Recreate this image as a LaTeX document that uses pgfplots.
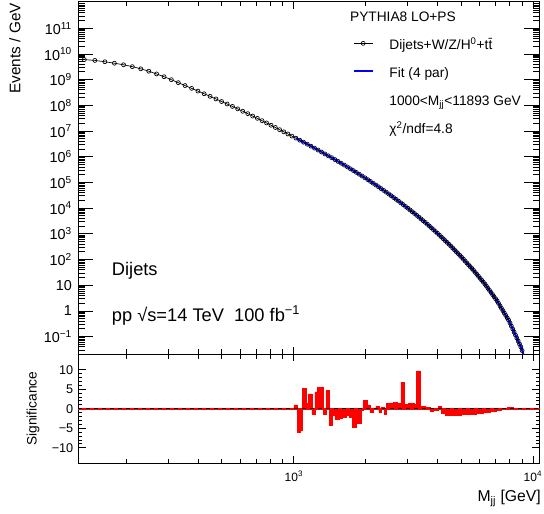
\documentclass[border=0pt]{standalone}
\usepackage{fontspec}
\setmainfont{Liberation Sans}
\usepackage{pgfplots}
\usepackage{pgfplotstable}
\pgfplotsset{compat=1.18}

\pgfplotstableread{
m y
132.8 6.04e9
147.0 5.61e9
161.9 4.98e9
177.5 4.37e9
193.8 3.80e9
210.9 3.21e9
228.7 2.65e9
247.2 2.13e9
266.4 1.67e9
286.4 1.30e9
307.1 9.98e8
328.4 7.66e8
350.5 5.90e8
373.4 4.59e8
396.9 3.59e8
421.2 2.83e8
446.2 2.25e8
471.9 1.78e8
498.3 1.41e8
525.5 1.13e8
553.3 9.10e7
581.9 7.31e7
611.2 5.90e7
641.3 4.76e7
672.0 3.85e7
703.5 3.13e7
735.7 2.54e7
768.6 2.07e7
802.2 1.69e7
836.5 1.38e7
871.6 1.13e7
907.4 9.33e6
943.9 7.71e6
981.1 6.38e6
1019.1 5.31e6
1057.7 4.42e6
1097.1 3.70e6
1137.2 3.09e6
1178.1 2.59e6
1219.6 2.17e6
1261.9 1.83e6
1304.9 1.53e6
1348.6 1.29e6
1393.0 1.09e6
1438.1 9.23e5
1484.0 7.80e5
1530.6 6.59e5
1577.9 5.60e5
1626.0 4.73e5
1674.7 4.02e5
1724.2 3.41e5
1774.3 2.90e5
1825.2 2.46e5
1876.9 2.09e5
1929.2 1.78e5
1982.3 1.52e5
2036.1 1.29e5
2090.6 1.10e5
2145.8 9.35e4
2201.8 7.98e4
2258.4 6.81e4
2315.8 5.78e4
2374.0 4.92e4
2432.8 4.20e4
2492.3 3.59e4
2552.6 3.05e4
2613.6 2.60e4
2675.3 2.21e4
2737.7 1.89e4
2800.8 1.61e4
2864.7 1.38e4
2929.3 1.17e4
2994.6 9.98e3
3060.6 8.51e3
3127.4 7.28e3
3194.9 6.22e3
3263.0 5.28e3
3331.9 4.50e3
3401.6 3.83e3
3471.9 3.27e3
3543.0 2.80e3
3614.8 2.38e3
3687.3 2.02e3
3760.5 1.72e3
3834.5 1.46e3
3909.1 1.24e3
3984.5 1.06e3
4060.6 897
4137.4 760
4214.9 644
4293.3 547
4372.3 466
4452.0 395
4532.4 335
4613.5 283
4695.4 239
4778.0 202
4861.3 172
4945.3 146
5030.1 123
5115.5 104
5201.7 87.5
5288.6 74.0
5376.3 62.5
5464.6 53.0
5553.7 45.0
5643.5 38.0
5734.0 31.8
5825.2 26.7
5917.1 22.4
6009.8 18.8
6103.2 15.8
6197.3 13.3
6292.1 11.2
6387.7 9.29
6483.9 7.66
6580.9 6.32
6678.6 5.24
6777.1 4.33
6876.2 3.59
6976.1 2.99
7076.7 2.48
7178.0 1.99
7280.0 1.59
7382.8 1.28
7486.2 1.03
7590.4 0.831
7695.3 0.673
7801.0 0.542
7907.3 0.441
8014.4 0.341
8122.2 0.259
8230.7 0.198
8339.9 0.151
8449.8 0.116
8560.5 0.0883
8671.9 0.0678
8784.0 0.0521
8896.8 0.0402
9010.4 0.0289
9124.6 0.0205
9239.6 0.0147
9355.3 0.0105
}\spectrum

\pgfplotstableread{
m s
1000 1.0
1032.6 -6.0
1059.5 -5.6
1087.2 5.3
1122.6 1.3
1151.9 3.8
1189.4 -1.5
1224.3 4.3
1256 5.4
1297.2 5.6
1326.6 -1.5
1361.2 4.7
1405.6 -4.3
1451.5 -1.7
1484.3 -2.7
1542.8 -2.4
1593 -2.1
1650.6 -1.7
1704.3 -2.1
1760 -4.7
1829 -3.8
1919 -0.3
1950 2.1
2027 1.0
2080 -0.9
2147 0.2
2203 0.7
2268 -0.9
2327 0.4
2388 -1.3
2442 1.3
2522 1.5
2600 1.6
2700 1.4
2804 6.8
2895 1.1
3009 1.3
3100 1.5
3180 1.2
3261 9.7
3367 0.6
3533 0.4
3707 -0.7
3828 -0.4
4018 0.6
4149 -1.2
4300 -1.7
4600 -1.6
5000 -1.5
5400 -1.3
5800 -1.1
6200 -0.9
6600 -0.6
7000 -0.4
7400 -0.2
7800 0.3
8300 0.1
8800 0
10650 0
}\signif

\begin{document}
\begin{tikzpicture}
\path[use as bounding box] (-58.5pt,1.125pt) rectangle (349.5pt,-384.375pt);

\begin{axis}[
  name=main,
  at={(0pt,0pt)}, anchor=north west,
  scale only axis, width=346.125pt, height=264.375pt,
  xmode=log, ymode=log,
  xmin=125, xmax=10650, ymin=0.0212, ymax=1.1e12,
  axis line style={line width=0.75pt},
  tick align=inside,
  every tick/.append style={line width=0.7pt, black},
  xtick style={/pgfplots/major tick length=5.5pt,/pgfplots/minor tick length=3.4pt},
  minor x tick style={/pgfplots/minor tick length=3.4pt},
  ytick style={/pgfplots/major tick length=11.5pt,/pgfplots/minor tick length=5pt},
  minor y tick style={/pgfplots/minor tick length=5pt},
  xtick={1000,10000}, xticklabels={,},
  minor xtick={200,300,400,500,600,700,800,900,2000,3000,4000,5000,6000,7000,8000,9000},
  ytick={0.1,1,10,100,1000,1e4,1e5,1e6,1e7,1e8,1e9,1e10,1e11},
  yticklabels={10\textsuperscript{−1},1,10,10\textsuperscript{2},10\textsuperscript{3},10\textsuperscript{4},10\textsuperscript{5},10\textsuperscript{6},10\textsuperscript{7},10\textsuperscript{8},10\textsuperscript{9},10\textsuperscript{10},10\textsuperscript{11}},
  minor ytick={3e-2,4e-2,5e-2,6e-2,7e-2,8e-2,9e-2,
    2e-1,3e-1,4e-1,5e-1,6e-1,7e-1,8e-1,9e-1,
    2,3,4,5,6,7,8,9,
    20,30,40,50,60,70,80,90,
    200,300,400,500,600,700,800,900,
    2e3,3e3,4e3,5e3,6e3,7e3,8e3,9e3,
    2e4,3e4,4e4,5e4,6e4,7e4,8e4,9e4,
    2e5,3e5,4e5,5e5,6e5,7e5,8e5,9e5,
    2e6,3e6,4e6,5e6,6e6,7e6,8e6,9e6,
    2e7,3e7,4e7,5e7,6e7,7e7,8e7,9e7,
    2e8,3e8,4e8,5e8,6e8,7e8,8e8,9e8,
    2e9,3e9,4e9,5e9,6e9,7e9,8e9,9e9,
    2e10,3e10,4e10,5e10,6e10,7e10,8e10,9e10,
    2e11,3e11,4e11,5e11,6e11,7e11,8e11,9e11},
  yticklabel style={font=\fontsize{10.8}{12}\selectfont, xshift=-1pt},
  ylabel={Events / GeV},
  every axis y label/.style={at={(axis description cs:-0.1365,0.996)}, rotate=90, anchor=east, inner sep=0pt, font=\fontsize{11.5}{13}\selectfont},
  legend style={at={(axis description cs:0.5959,0.8987)}, anchor=north west, draw=none, fill=none,
    inner sep=0pt, outer sep=0pt, row sep=11.8pt, column sep=12pt,
    font=\fontsize{10.3}{12}\selectfont,
    nodes={inner sep=0pt, text height=9.2pt, text depth=0pt}},
  legend cell align=left,
  legend image code/.code={\draw[mark repeat=2,mark phase=2,#1] plot coordinates {(0pt,0pt) (7pt,0pt) (14pt,0pt)};},
]
\addplot[black, line width=0.5pt, mark=o, mark size=1.5pt, mark options={solid, line width=0.5pt}, forget plot]
  table[x=m, y=y] {\spectrum};
\addplot[color={rgb,255:red,0;green,0;blue,255}, line width=1.5pt, forget plot, skip coords between index={0}{34}]
  table[x=m, y=y] {\spectrum};

\addlegendimage{black, line width=0.5pt, mark=o, mark size=1.5pt, mark options={solid}}
\addlegendentry{Dijets+W/Z/H\textsuperscript{0}+t\={t}}
\addlegendimage{color={rgb,255:red,0;green,0;blue,255}, line width=1.3pt}
\addlegendentry{Fit (4 par)}
\addlegendimage{empty legend}
\addlegendentry{1000<M\textsubscript{jj}<11893 GeV}
\addlegendimage{empty legend}
\addlegendentry{χ\textsuperscript{2}/ndf=4.8}

\node[anchor=base west, inner sep=0pt, font=\fontsize{10.3}{12}\selectfont] at (axis description cs:0.589,0.9427) {PYTHIA8 LO+PS};
\node[anchor=base west, inner sep=0pt, font=\fontsize{13.7}{16}\selectfont] at (axis description cs:0.073,0.224) {Dijets};
\node[anchor=base west, inner sep=0pt, font=\fontsize{13.7}{16}\selectfont] at (axis description cs:0.073,0.0916) {pp √s=14 TeV\ \ 100 fb\textsuperscript{−1}};
\end{axis}

\begin{axis}[
  at={(0pt,-264.375pt)}, anchor=north west,
  scale only axis, width=346.125pt, height=82.125pt,
  xmode=log,
  xmin=125, xmax=10650, ymin=-14, ymax=14,
  axis line style={line width=0.75pt},
  tick align=inside,
  every tick/.append style={line width=0.7pt, black},
  xtick style={/pgfplots/major tick length=5.5pt,/pgfplots/minor tick length=3.4pt},
  minor x tick style={/pgfplots/minor tick length=3.4pt},
  ytick style={/pgfplots/major tick length=6pt,/pgfplots/minor tick length=3pt},
  minor y tick style={/pgfplots/minor tick length=3pt},
  xtick={1000,10000}, xticklabels={10\textsuperscript{3},10\textsuperscript{4}},
  minor xtick={200,300,400,500,600,700,800,900,2000,3000,4000,5000,6000,7000,8000,9000},
  ytick={-10,-5,0,5,10}, yticklabels={−10,−5,0,5,10},
  minor y tick num=4,
  xticklabel style={font=\fontsize{9}{10}\selectfont, yshift=-2pt},
  yticklabel style={font=\fontsize{9.5}{11}\selectfont},
  xlabel={M\textsubscript{jj} [GeV]},
  ylabel={Significance},
  every axis x label/.style={at={(axis description cs:1.0033,-0.349)}, anchor=base east, inner sep=0pt, font=\fontsize{11.8}{13}\selectfont},
  every axis y label/.style={at={(axis description cs:-0.0975,0.5)}, rotate=90, anchor=center, inner sep=0pt, font=\fontsize{10.3}{12}\selectfont},
]
\addplot[red, line width=1.5pt, forget plot] coordinates {(125,0) (10650,0)};
\addplot[ybar interval, fill=red, draw=red, line width=0.4pt, forget plot] table[x=m, y=s] {\signif};
\addplot[black, line width=0.6pt, dash pattern=on 3pt off 3pt, forget plot] coordinates {(125,0) (10650,0)};
\end{axis}
\end{tikzpicture}
\end{document}
